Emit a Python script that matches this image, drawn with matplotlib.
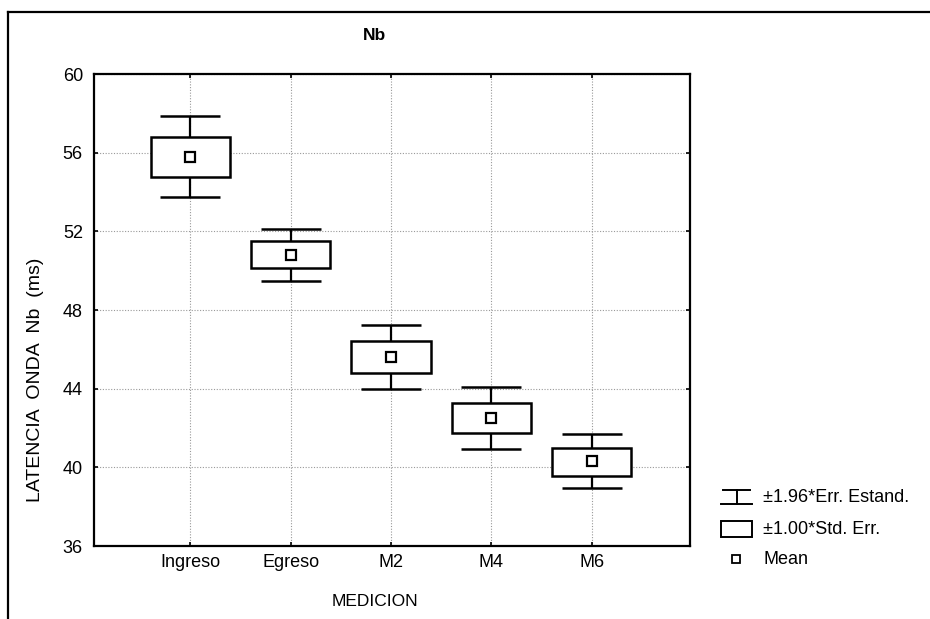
import numpy as np
import matplotlib.pyplot as plt
from matplotlib.patches import Rectangle
from matplotlib.lines import Line2D

plt.rcParams['font.family'] = ['Liberation Sans', 'DejaVu Sans']

# data
categories = ['Ingreso', 'Egreso', 'M2', 'M4', 'M6']
means = [55.8, 50.8, 45.6, 42.5, 40.3]
se_low = [54.76, 50.14, 44.78, 41.73, 39.58]
se_high = [56.80, 51.49, 46.43, 43.29, 41.00]
ci_low = [53.76, 49.46, 43.99, 40.92, 38.94]
ci_high = [57.87, 52.12, 47.22, 44.07, 41.70]
yticks = [36, 40, 44, 48, 52, 56, 60]
legend_labels = ['±1.96*Err. Estand.', '±1.00*Std. Err.', 'Mean']

W, H = 930, 619
fig = plt.figure(figsize=(W / 100, H / 100), dpi=100)
ax = fig.add_axes([94 / W, 1 - 546 / H, (690 - 94) / W, (546 - 74) / H])

x = np.arange(len(categories))
box_w = 0.79
cap_w = 0.6

for i in range(len(categories)):
    # whiskers (+-1.96 SE)
    ax.vlines(x[i], se_high[i], ci_high[i], color='black', lw=1.6, zorder=3)
    ax.vlines(x[i], ci_low[i], se_low[i], color='black', lw=1.6, zorder=3)
    ax.hlines([ci_low[i], ci_high[i]], x[i] - cap_w / 2, x[i] + cap_w / 2,
              color='black', lw=1.8, zorder=3)
    # box (+-1 SE)
    ax.add_patch(Rectangle((x[i] - box_w / 2, se_low[i]), box_w,
                           se_high[i] - se_low[i], facecolor='white',
                           edgecolor='black', lw=1.8, zorder=3))
ax.plot(x, means, linestyle='none', marker='s', markersize=7,
        markerfacecolor='white', markeredgecolor='black', markeredgewidth=1.6,
        zorder=4)

ax.set_xlim(-0.96, 4.98)
ax.set_ylim(36, 60)
ax.set_xticks(x)
ax.set_xticklabels(categories)
ax.set_yticks(yticks)
ax.grid(True, color='#999999', linestyle=(0, (1, 1.5)), lw=0.8, zorder=0)
ax.tick_params(direction='in', length=3, width=1.2, top=True, right=True,
               labelsize=13, pad=6)
ax.tick_params(axis='y', pad=8)
for s in ax.spines.values():
    s.set_linewidth(1.6)

fig.text(35 / W, 1 - 380 / H, 'LATENCIA  ONDA  Nb  (ms)', fontsize=14,
         rotation=90, ha='center', va='center')
fig.text(375 / W, 1 - 602 / H, 'MEDICION', fontsize=12.5,
         ha='center', va='center')
fig.text(375 / W, 1 - 35 / H, 'Nb', fontsize=12.5, fontweight='bold',
         ha='center', va='center')

# legend drawn by hand
lx0, lx1 = 721 / W, 752 / W
y1, y2, y3 = 1 - 497 / H, 1 - 529 / H, 1 - 559 / H
fig.add_artist(Line2D([lx0 + 2 / W, lx1 - 2 / W], [y1 + 7 / H] * 2,
                      color='black', lw=1.4))
fig.add_artist(Line2D([lx0, lx1], [y1 - 7 / H] * 2, color='black', lw=1.4))
fig.add_artist(Line2D([(lx0 + lx1) / 2] * 2, [y1 - 7 / H, y1 + 7 / H],
                      color='black', lw=1.4))
fig.add_artist(Rectangle((lx0, y2 - 8 / H), lx1 - lx0, 16 / H,
                         transform=fig.transFigure, facecolor='white',
                         edgecolor='black', lw=1.4))
fig.add_artist(Line2D([736 / W], [y3], linestyle='none', marker='s',
                      markersize=6, markerfacecolor='white',
                      markeredgecolor='black', markeredgewidth=1.3))
for yy, txt in zip([y1, y2, y3], legend_labels):
    fig.text(763 / W, yy, txt, fontsize=13, ha='left', va='center')

# outer frame
fig.add_artist(Line2D([8 / W, 8 / W], [0, 1 - 12 / H], color='black', lw=1.6))
fig.add_artist(Line2D([8 / W, 1], [1 - 12 / H] * 2, color='black', lw=1.6))

fig.savefig('out.png', dpi=100)
